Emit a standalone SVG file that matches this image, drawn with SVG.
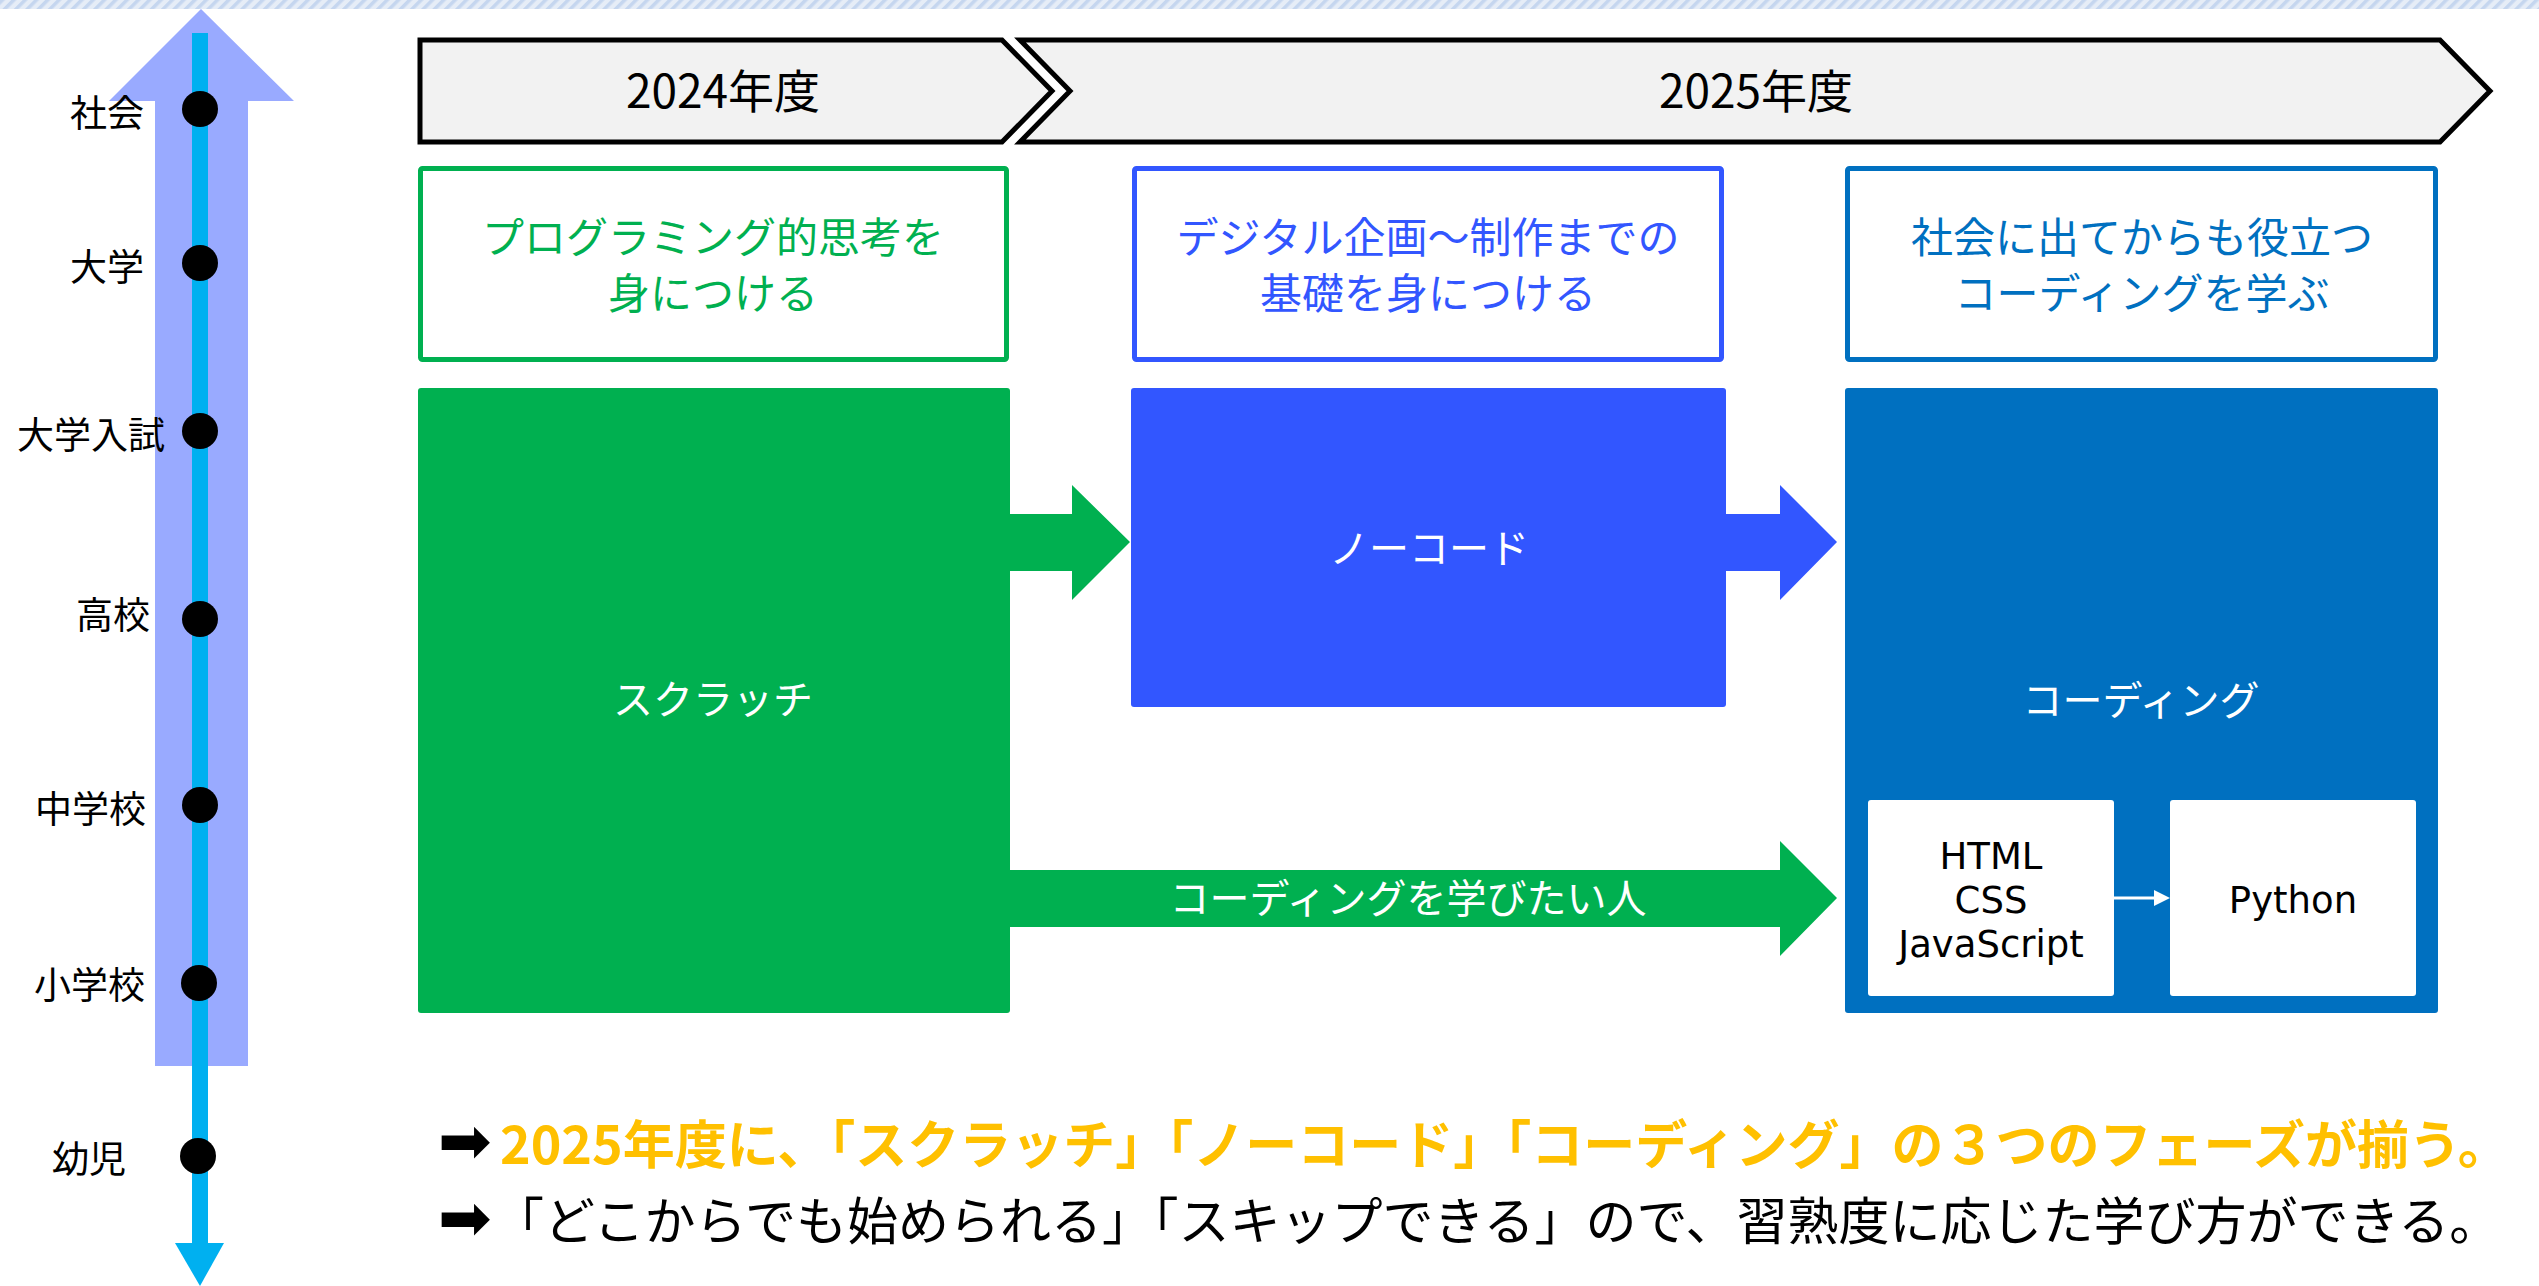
<svg xmlns="http://www.w3.org/2000/svg" width="2539" height="1286" viewBox="0 0 2539 1286">
<style>
.jp{font-family:"Noto Sans CJK JP","Noto Sans CJK SC",sans-serif}
.lat{font-family:"DejaVu Sans","Verdana",sans-serif}
.tl{font-size:37px;fill:#000}
.hd{font-size:46px;fill:#000;text-anchor:middle}
.goal{font-size:42px;text-anchor:middle}
.big{font-size:40px;fill:#fff;text-anchor:middle}
.code{font-size:37px;fill:#000;text-anchor:middle}
.chev{fill:#f2f2f2;stroke:#000;stroke-width:5;stroke-linejoin:miter}
.dot{fill:#000}
.arr{font-family:"DejaVu Sans",sans-serif;font-size:64px;fill:#000}
</style>
<defs>
<pattern id="hatch" width="8" height="8" patternUnits="userSpaceOnUse" patternTransform="rotate(45)">
<rect width="8" height="8" fill="#e6edf7"/>
<rect width="3.5" height="8" fill="#c5d6ef"/>
</pattern>
</defs>
<rect width="2539" height="1286" fill="#fff"/>
<rect x="0" y="0" width="2539" height="9" fill="url(#hatch)"/>

<g id="timeline">
<polygon points="155,1066 155,101 109,101 201,9 294,101 248,101 248,1066" fill="#99aaff"/>
<rect x="192" y="33" width="16" height="1212" fill="#00b0f0"/>
<polygon points="175,1243 224,1243 200,1286" fill="#00b0f0"/>
<circle class="dot" cx="200" cy="109" r="18"/>
<circle class="dot" cx="200" cy="263" r="18"/>
<circle class="dot" cx="200" cy="431" r="18"/>
<circle class="dot" cx="200" cy="619" r="18"/>
<circle class="dot" cx="200" cy="805" r="18"/>
<circle class="dot" cx="199" cy="983" r="18"/>
<circle class="dot" cx="198" cy="1156" r="18"/>
<text class="jp tl" x="70" y="127">社会</text>
<text class="jp tl" x="70" y="281">大学</text>
<text class="jp tl" x="17" y="449">大学入試</text>
<text class="jp tl" x="76" y="629">高校</text>
<text class="jp tl" x="35" y="823">中学校</text>
<text class="jp tl" x="34" y="999">小学校</text>
<text class="jp tl" x="52" y="1173">幼児</text>
</g>

<g id="year2024">
<polygon class="chev" points="420,40 1002,40 1052,91 1002,142 420,142"/>
<text class="jp hd" x="723" y="108">2024年度</text>
</g>
<g id="year2025">
<polygon class="chev" points="1020,40 2440,40 2490,91 2440,142 1020,142 1070,91"/>
<text class="jp hd" x="1756" y="108">2025年度</text>
</g>

<g id="goal-scratch">
<rect x="420.5" y="168.5" width="586" height="191" rx="2" fill="#fff" stroke="#00b050" stroke-width="5"/>
<text class="jp goal" fill="#00b050" x="713" y="253">プログラミング的思考を</text>
<text class="jp goal" fill="#00b050" x="713" y="309">身につける</text>
</g>
<g id="goal-nocode">
<rect x="1134.5" y="168.5" width="587" height="191" rx="2" fill="#fff" stroke="#3256ff" stroke-width="5"/>
<text class="jp goal" fill="#3256ff" x="1428" y="253">デジタル企画～制作までの</text>
<text class="jp goal" fill="#3256ff" x="1428" y="309">基礎を身につける</text>
</g>
<g id="goal-coding">
<rect x="1847.5" y="168.5" width="588" height="191" rx="2" fill="#fff" stroke="#0070c0" stroke-width="5"/>
<text class="jp goal" fill="#0070c0" x="2142" y="253">社会に出てからも役立つ</text>
<text class="jp goal" fill="#0070c0" x="2142" y="309">コーディングを学ぶ</text>
</g>

<g id="scratch">
<rect x="418" y="388" width="592" height="625" rx="3" fill="#00b050"/>
<text class="jp big" x="713" y="714">スクラッチ</text>
</g>
<g id="nocode">
<rect x="1131" y="388" width="595" height="319" rx="3" fill="#3256ff"/>
<text class="jp big" x="1429" y="563">ノーコード</text>
</g>
<g id="coding">
<rect x="1845" y="388" width="593" height="625" rx="3" fill="#0070c0"/>
<text class="jp big" x="2141" y="715">コーディング</text>
</g>
<g id="web">
<rect x="1868" y="800" width="246" height="196" rx="3" fill="#fff"/>
<text class="lat code" x="1991" y="869">HTML</text>
<text class="lat code" x="1991" y="913">CSS</text>
<text class="lat code" x="1991" y="957">JavaScript</text>
</g>
<g id="python">
<rect x="2170" y="800" width="246" height="196" rx="3" fill="#fff"/>
<text class="lat code" x="2293" y="913">Python</text>
</g>

<g id="connectors">
<polygon points="1010,514 1072,514 1072,485 1130,542 1072,600 1072,571 1010,571" fill="#00b050"/>
<polygon points="1726,514 1780,514 1780,485 1837,542 1780,600 1780,571 1726,571" fill="#3256ff"/>
<polygon points="1010,870 1780,870 1780,841 1837,898 1780,956 1780,927 1010,927" fill="#00b050"/>
<text class="jp big" x="1408" y="913">コーディングを学びたい人</text>
<line x1="2114" y1="898" x2="2156" y2="898" stroke="#fff" stroke-width="3"/>
<polygon points="2154,890 2170,898 2154,906" fill="#fff"/>
</g>

<g id="summary">
<text x="438" y="1163"><tspan class="arr">➡</tspan><tspan class="jp" x="500" y="1164" font-size="52" font-weight="700" fill="#ffc000">2025年度に、「スクラッチ」「ノーコード」「コーディング」の３つのフェーズが揃う。</tspan></text>
<text x="438" y="1240"><tspan class="arr">➡</tspan><tspan class="jp" x="493" y="1240" font-size="51" fill="#000">「どこからでも始められる」「スキップできる」ので、習熟度に応じた学び方ができる。</tspan></text>
</g>
</svg>
